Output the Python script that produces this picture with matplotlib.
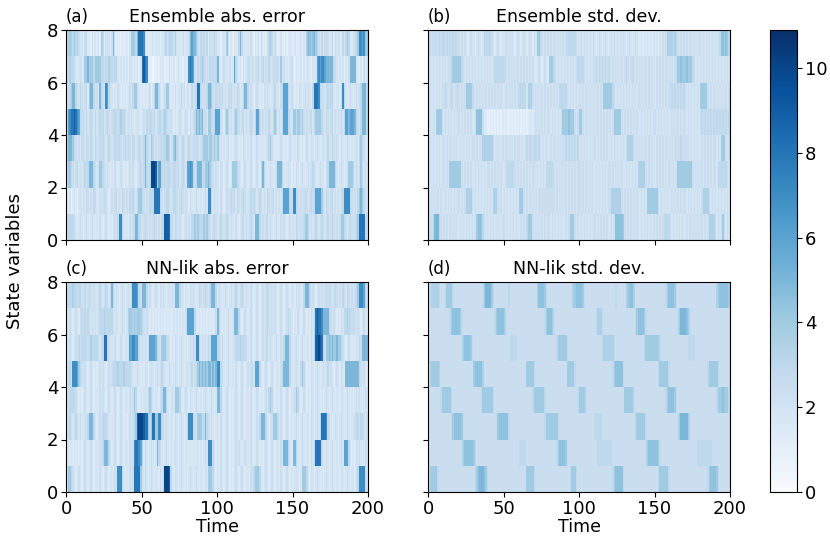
import numpy as np
import matplotlib
matplotlib.use("Agg")
import matplotlib.pyplot as plt

# each row is one state variable (top row = state 7), 200 time steps,
# one char per step, value = int(char, 36) / 2
ens_err_rows = [
    "6787686754 4356342534 3428634543 5a42332423 3248886agg ge43233424 3424366576 6574342534 45acaa8546 5646354565 3424438534 24346a6343 4354243526 3425686354 2343242343 2423342438 a989a86546 4565346354 5436468643 4568eece88",
    "6576654345 4388a88868 8886656576 6566434343 4345343424 gige322122 3243423253 3423433243 4egec54656 8645465656 a434544353 4c64342534 5646455645 6454654656 5484534345 3243342434 432434cece ecaaaaa654 34342435aa aa43242534",
    "4568aa6546 545638aa64 54a654ec65 4343543434 3454688543 434345246a a643458843 4353446453 5436456gg6 4546aa8546 5656454656 45465346aa 6454345434 3545434564 4356ccc645 4343543454 5436ggge65 5466566434 435e643454 345456aaa6",
    "6ceggigec6 5646456546 4565645654 5666567665 4545434543 4546566564 5665676545 4343454345 435456a8a8 a56488656c cc54368645 4686545645 456546cc64 5454654686 4546ccc654 8868868545 4564688886 5465456454 54646ccacc ca6546aaa6",
    "6aaa865454 5646546546 5465654565 4565665456 5654654565 46a6548645 4565668864 58a6545654 5654656545 6888688686 8543434534 3454343543 4354345343 4345685434 3454343454 3435434345 4354345434 5456546545 4354345434 3454686543",
    "5886545645 45656aaa65 4588654543 4354345434 3454543456 46a656kkli 8cc6565665 5665645654 ccec656aaa 5688a86545 4354345434 8886543454 3454345436 a643454345 aaa6434543 4354345434 5456543454 4356aaaa64 3454345888 6454586454",
    "3242343245 4546545465 4354565434 5456454654 5465654688 65454656gg gg65456654 5665456545 4354345434 3454ee6454 4354345456 5646545654 4565654565 4546545645 4546cccc65 ee65454565 45656cccc8 5465456454 5456eeee65 45468a8654",
    "5666654345 4345434543 4354345434 34546ee643 435456aa65 4565454565 45466iiig6 5465454345 4546686866 5868654565 4565456545 4354345645 45654aaa64 5456454345 4354543454 5465454688 6454565456 5456456545 4588654565 4568gggg65",
]

ens_std_rows = [
    "5656565656 6565656565 5454543454 4345434666 6654345434 4545454345 4345434543 5488654545 4545454545 4566666654 4545454545 4345434543 4545454545 4345434543 3434343434 3434454577 7767654545 4545454545 5454545454 5456998986",
    "4545454545 4545568888 8865454545 4545454545 4545666666 6545454545 4545454545 4345434543 8886545454 5454545456 6665454545 5656565656 5454545454 5654565454 5454545454 4545454545 4545688988 8988865454 5454545454 5454545454",
    "4545454545 5654565456 5454588886 5454545454 5454545454 4545454545 6666647775 4545454545 4545454666 6654545454 5454545454 5454548888 8865454545 4545454545 5454545454 4545454545 5656565656 5454545454 8888854545 4545454545",
    "4545488885 4545454545 5454545454 4599995332 2323232323 2322323232 3232323343 4545454545 5454545458 8889888545 8854545454 5454545454 5458888854 5454545454 4545454545 5454545454 4545454545 5454545454 5656565656 5656565656",
    "4545454545 5454545454 4545454545 5454547777 7775454545 4545454545 5454565665 6656545454 4545454545 5656565656 4545454545 5454545454 4545454545 4577775454 5454545454 4545454545 4545555655 5554545454 4545454545 5454888545",
    "4545454545 5454888888 8854545454 4545454545 5454545454 4566666545 4545454545 5454545466 6665454545 4545454545 5454545454 4545454545 5454545454 4545454547 7777545454 4545454545 5454588888 8888854545 4545454545 5466666654",
    "5454545454 4545454545 5454577775 4545454545 4547775454 5454545454 8885454545 4545555555 5555454545 4545454545 5454545454 4545454545 5777777754 5454545454 4545488888 8854545454 4545454545 5454545454 4577775454 5454545454",
    "4556aaa654 5454545454 4545454545 4589996545 4545454545 5454545454 4545468885 4545454545 5454545454 4545888545 4545454545 5454545454 4545999998 5454545454 4545454545 4545456666 5454545454 4545454545 4545457777 5454585454",
]

nn_err_rows = [
    "5666766566 5464565454 4565456545 a645434543 4546eeec65 aaa6454345 4354543454 54aaa65434 4354543465 456546aaa6 4543454345 4565456545 4354345434 5456545454 3454345434 43545436aa a645434545 4565654565 4546546545 4568eeec65",
    "4354345435 6565654545 4566676666 6545434543 4788787887 6545434343 4343434343 3434343435 ccccc64343 4343434345 a643434543 4aaa643454 3454345434 5456545454 3454345654 3435434543 43546gigge aaaa654543 4354667665 6545434543",
    "4354345465 6666567666 65456gg654 4354345434 45cceecc64 54545cccca 6548886543 4354345434 345465ee64 545465cccc 6545434543 4566676665 4354345434 5456454345 43546aaa64 3454345434 43546iikig 6588a8a88a 8865434543 435465aaaa",
    "4565eeec86 5454345434 3454543454 5666766676 6665434543 4354345434 5456543454 3454345434 54564568a8 a8a8aa8a8a ee65434543 4354345434 54564ccc64 3454345434 4356aaaa64 3454368643 4354345434 5456454345 43543aaaaa aaaa654543",
    "4566665434 3454345434 4354543454 3454345434 4354586434 3454686434 4356aa6434 5488864345 4354345434 3454345434 aa64345434 3454345434 4354345434 3454686434 4354345434 4586434543 4354345434 3454345434 4354345434 3454543454",
    "4565456545 43546aaa64 3454666543 4354345434 3454568ikk kigg868gg8 8ee6545434 4354345434 6eee654888 56a6545434 4354345434 3454345434 435434546a aa64345888 6454345434 3454345434 435434546g gge6543454 3454345434 4566566545",
    "3434343434 3454345434 43546aaa64 3454345434 43545eggec 6454345434 a654345434 3454345434 3434343434 3454eee643 4354345434 3454543454 4354345434 3454345434 4354aaa643 aa64345434 43546gggg6 4354345434 3454ccc643 4354543454",
    "4886543454 3454345434 4354345434 4354eee643 43545gggg8 5454345434 43546klki6 4354345434 3454345434 4354888643 4354345434 3454345434 4354688864 3454345434 4354345434 3454348886 4354345434 3454345434 4354345434 4356eeee64",
]

nn_std_rows = [
    "5677777655 5688886555 5555555555 55555568aa aa86555555 5556555555 5555555555 5579999865 5555555555 5555568899 9986555555 5555555555 5555655555 5789997555 5555555555 5555555689 9998655555 5555555555 5555555555 5789999998",
    "5555555555 5555689999 9865555555 5555555555 5555689999 8655555555 5555555555 5555555689 9986555555 5555555555 5555555555 5677765555 5555555555 5555555689 9998655555 5555555555 5555568aaa a986555555 5555555555 5555555555",
    "5555555555 5555555555 5568999986 5555555555 5555555555 5555666665 5555555555 5555555555 5555568888 8865555555 5555555555 5555567777 7776555555 5555555555 5556888888 8886555555 5555555555 5566666555 5555555555 5555555555",
    "5788888755 5555555555 5555555555 8999997555 5555555555 5555555555 5555588888 6555555555 5555555555 5588888655 5555555555 5555555555 5568999996 5555555555 5555555555 5568888886 5555555555 5555555555 5555568888 8865555555",
    "5555555568 8888865555 5555555555 5555568888 8886555555 5555555555 5555555556 8888888655 5555555555 5555555556 8888655555 5555555555 5555555555 8888886555 5555555555 5555555689 9998655555 5555555555 5555555555 5688898886",
    "5555555555 5555568999 9986555555 5555555555 5555568999 9996555555 5555555555 5555555688 8888886555 5555555555 5555555555 6666655555 5555555555 5555555688 8888655555 5555555555 5555568aaa aa86555555 5555555555 5555555555",
    "5555555555 5555555555 5568999999 8655555555 5555555555 5555555555 6666655555 5555555555 5555568999 9865555555 5555555555 5566666666 6655555555 5555555555 5555689999 9986555555 5555555555 5555555566 6666666655 5555555555",
    "5888886555 5555555555 5555555555 5689aaa986 5555555555 5555555555 5555588888 6555555555 5555555555 5555688865 5555555555 5555555555 5568999996 5555555555 5555555555 5568888886 5555555555 5555555555 5555568999 9865555555",
]

titles = ["Ensemble abs. error", "Ensemble std. dev.", "NN-lik abs. error", "NN-lik std. dev."]
letters = ["(a)", "(b)", "(c)", "(d)"]
vmax = 10.9


def decode(rows):
    arr = np.array([[int(c, 36) / 2 for c in r.replace(" ", "")] for r in rows])
    return arr[::-1]  # row 0 at the bottom


panels = [decode(ens_err_rows), decode(ens_std_rows), decode(nn_err_rows), decode(nn_std_rows)]

plt.rcParams["font.size"] = 13
plt.rcParams["xtick.labelsize"] = 13
plt.rcParams["ytick.labelsize"] = 13
fig = plt.figure(figsize=(8.3, 5.44), dpi=100)

W, H = 830, 544
boxes = [(66, 30), (428, 30), (66, 282), (428, 282)]
aw, ah = 302, 210

t_edges = np.arange(201)
s_edges = np.arange(9)

for i, (px, py) in enumerate(boxes):
    ax = fig.add_axes([px / W, 1 - (py + ah) / H, aw / W, ah / H])
    mesh = ax.pcolormesh(t_edges, s_edges, panels[i], cmap="Blues", vmin=0, vmax=vmax)
    ax.set_xlim(0, 200)
    ax.set_ylim(0, 8)
    ax.set_xticks([0, 50, 100, 150, 200])
    ax.set_yticks([0, 2, 4, 6, 8])
    ax.tick_params(pad=2)
    ax.set_title(titles[i], fontsize=12.5, pad=3)
    ax.set_title(letters[i], loc="left", fontsize=12, pad=6)
    if i < 2:
        ax.set_xticklabels([])
    else:
        ax.set_xlabel("Time", fontsize=12.5, labelpad=0)
    if i % 2 == 1:
        ax.set_yticklabels([])

cax = fig.add_axes([770 / W, 1 - 492 / H, 27 / W, 462 / H])
cb = fig.colorbar(mesh, cax=cax)
cb.set_ticks([0, 2, 4, 6, 8, 10])
cb.outline.set_linewidth(0.8)
cax.tick_params(pad=2)

fig.text(15 / W, 0.52, "State variables", rotation=90, ha="center", va="center", fontsize=13)

fig.savefig("out.png", dpi=100)
